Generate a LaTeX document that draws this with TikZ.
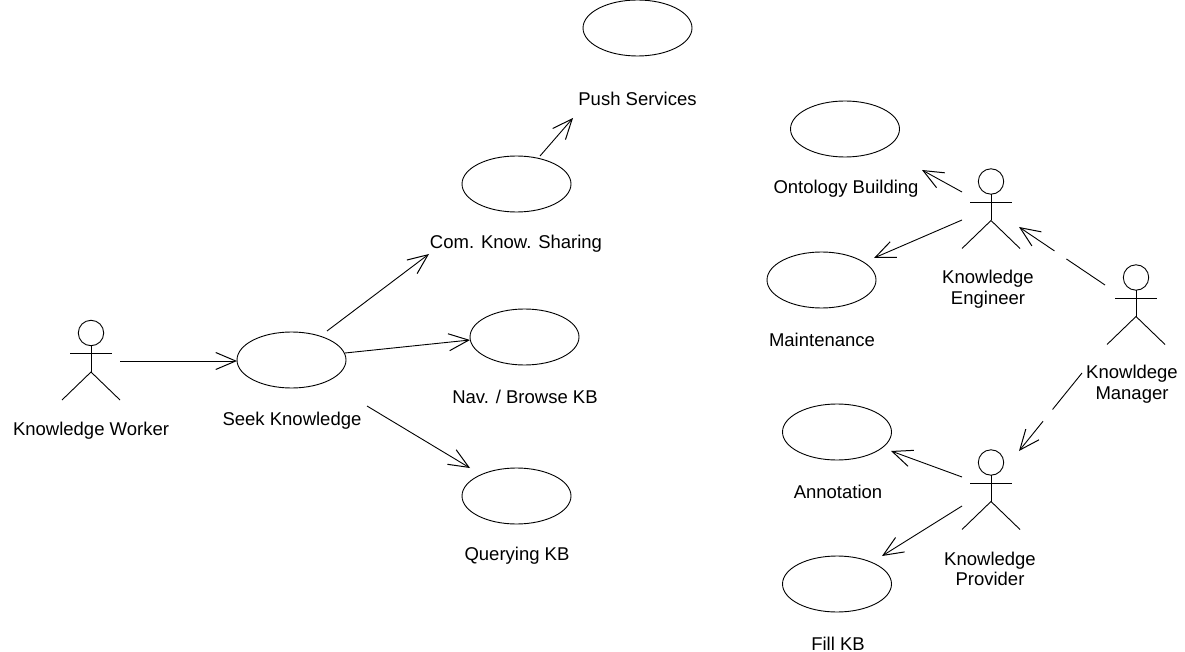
\documentclass[tikz,border=0pt]{standalone}
\usepackage{fontspec}
\setmainfont{Liberation Sans}
\usetikzlibrary{arrows.meta,shapes.geometric}
\tikzset{
  x=1pt,y=-1pt,
  every path/.style={line width=0.9pt},
  usecase/.style={draw,ellipse,inner sep=0pt,outer sep=0pt,minimum width=109pt,minimum height=56pt},
  actorbox/.style={inner sep=0pt,outer sep=0pt,minimum width=58pt,minimum height=79pt},
  lbl/.style={inner sep=0pt,font=\fontsize{18.5}{20.5}\selectfont,align=center},
  assoc/.style={-{Straight Barb[length=20pt,width=17pt,line width=1pt]}},
  gapA/.style={dash pattern=on 46.6pt off 14.4pt on 300pt},
  gapB/.style={dash pattern=on 46.9pt off 15pt on 300pt},
  pics/stickman/.style={code={
    \draw (0,-27) circle[radius=12.7pt];
    \draw (0,-14.5) -- (0,12);
    \draw (-21,-6.5) -- (21,-6.5);
    \draw (-29,40) -- (0,12) -- (29,40);
  }}
}
\begin{document}
\begin{tikzpicture}
\useasboundingbox (0,0) rectangle (1185,652);
% actors
\node[actorbox] (worker) at (91,360) {};
\node[actorbox] (engineer) at (991,208.5) {};
\node[actorbox] (manager) at (1136,304.5) {};
\node[actorbox] (provider) at (991,489.5) {};
\pic at (91,360) {stickman};
\pic at (991,208.5) {stickman};
\pic at (1136,304.5) {stickman};
\pic at (991,489.5) {stickman};
% use cases
\node[usecase] (seek) at (291.5,360) {};
\node[usecase] (push) at (637.5,28) {};
\node[usecase] (share) at (516.5,184) {};
\node[usecase] (nav) at (524.5,337) {};
\node[usecase] (query) at (516.5,496) {};
\node[usecase] (onto) at (845,129) {};
\node[usecase] (maint) at (821.5,280) {};
\node[usecase] (annot) at (837,432) {};
\node[usecase] (fill) at (837,584) {};
% labels
\node[lbl] (lworker) at (91,431) {Knowledge Worker};
\node[lbl] (lseek) at (292,421) {Seek Knowledge};
\node[lbl] (lshare) at (516,244) {Com. Know. Sharing};
\node[lbl] (lnav) at (525,397) {Nav. / Browse KB};
\node[lbl] (lquery) at (517,556) {Querying KB};
\node[lbl] (lpush) at (637.5,99) {Push Services};
\node[lbl] (lonto) at (846,189) {Ontology Building};
\node[lbl] (lmaint) at (822,340) {Maintenance};
\node[lbl] (lengineer) at (988,289) {Knowledge\\Engineer};
\node[lbl] (lmanager) at (1132,384) {Knowldege\\Manager};
\node[lbl] (lannot) at (838,492) {Annotation};
\node[lbl] (lprovider) at (990,569) {Knowledge\\Provider};
\node[lbl] (lfill) at (838,644) {Fill KB};
% connectors
\draw[assoc] ([shift={(29,1)}]worker.center) -- (seek.west |- 0,361);
\draw[assoc] ([shift={(35.5,-29)}]seek.center) -- ([shift={(-87.5,70)}]share.center);
\draw[assoc] ([shift={(53.5,-7)}]seek.center) -- ([shift={(-54.5,3)}]nav.center);
\draw[assoc] ([shift={(75.5,46)}]seek.center) -- ([shift={(-46.5,-28)}]query.center);
\draw[assoc] ([shift={(23.5,-28)}]share.center) -- ([shift={(-64.5,90)}]push.center);
\draw[assoc] ([shift={(-29,-16.5)}]engineer.center) -- ([shift={(77,41)}]onto.center);
\draw[assoc] ([shift={(-29,11.5)}]engineer.center) -- ([shift={(52.5,-22)}]maint.center);
\draw[assoc,gapA] ([shift={(-31,-19.5)}]manager.center) -- ([shift={(28,18.5)}]engineer.center);
\draw[assoc,gapB] ([shift={(-54,68.5)}]manager.center) -- ([shift={(28,-38.5)}]provider.center);
\draw[assoc] ([shift={(-29,-12.5)}]provider.center) -- ([shift={(54,19)}]annot.center);
\draw[assoc] ([shift={(-29,16.5)}]provider.center) -- ([shift={(45,-28)}]fill.center);
\end{tikzpicture}
\end{document}
